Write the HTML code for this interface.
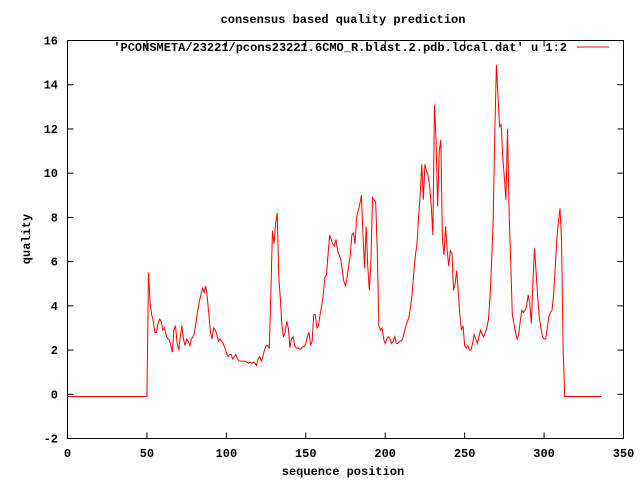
<!DOCTYPE html>
<html><head><meta charset="utf-8"><style>
body{margin:0;background:#fff}
svg text{font-family:"Liberation Mono",monospace;font-size:12px;font-weight:bold;fill:#000}
</style></head><body>
<svg id="chart" width="640" height="480" xmlns="http://www.w3.org/2000/svg">
<rect width="640" height="480" fill="#fff"/>
<text x="343" y="23" text-anchor="middle">consensus based quality prediction</text>
<text x="343" y="475" text-anchor="middle">sequence position</text>
<text transform="translate(30,239) rotate(-90)" text-anchor="middle">quality</text>
<g id="axes"></g>
<path id="series" fill="none" stroke="#ff0000" stroke-width="1"/>
<text x="567" y="51" text-anchor="end">'PCONSMETA/23221/pcons23221.6CMO_R.blast.2.pdb.local.dat' u 1:2</text>
<line x1="577" y1="47" x2="609" y2="47" stroke="#ff0000"/>
<rect x="67.5" y="40.5" width="556" height="398" fill="none" stroke="#000"/>
</svg>
<script>
const xTicks=[0,50,100,150,200,250,300,350];
const yTicks=[-2,0,2,4,6,8,10,12,14,16];
const startPos=0;
const quality=[
-0.1,-0.1,-0.1,-0.1,-0.1,-0.1,-0.1,-0.1,-0.1,-0.1,-0.1,-0.1,-0.1,-0.1,-0.1,-0.1,-0.1,-0.1,-0.1,-0.1,
-0.1,-0.1,-0.1,-0.1,-0.1,-0.1,-0.1,-0.1,-0.1,-0.1,-0.1,-0.1,-0.1,-0.1,-0.1,-0.1,-0.1,-0.1,-0.1,-0.1,
-0.1,-0.1,-0.1,-0.1,-0.1,-0.1,-0.1,-0.1,-0.1,-0.1,-0.1,
5.5,4.1,3.6,3.3,2.8,2.8,3.2,3.4,3.3,2.9,3.0,2.7,2.5,2.5,2.2,1.9,2.9,3.1,2.3,2.0,2.6,3.1,2.5,2.2,2.5,2.4,2.2,2.5,2.6,2.8,3.3,3.8,4.2,4.5,4.8,4.6,4.9,4.4,3.6,2.8,2.5,3.0,2.9,2.7,2.4,2.5,2.4,2.3,2.1,1.9,1.7,1.8,1.8,1.6,1.7,1.8,1.6,1.5,1.5,1.5,1.5,1.5,1.45,1.4,1.45,1.4,1.45,1.4,1.3,1.6,1.7,1.5,1.7,2.0,2.2,2.2,
2.1,4.5,7.4,6.8,7.7,8.2,5.3,
4.3,3.1,2.6,2.8,3.3,3.0,2.1,2.5,2.6,2.2,2.1,2.1,2.05,2.05,2.15,2.15,2.3,2.6,2.8,2.2,2.4,3.6,3.6,3.0,3.1,3.6,4.0,4.5,5.3,5.4,6.3,7.2,7.0,6.8,6.7,7.0,6.5,6.3,6.1,5.6,5.1,4.9,5.3,5.8,6.3,7.2,7.3,6.8,8.0,8.3,8.6,9.0,7.2,5.7,7.6,5.8,4.7,6.0,8.9,8.8,8.7,6.5,3.1,2.9,3.0,2.5,2.3,2.5,2.6,2.5,2.3,2.4,2.6,2.3,2.3,2.4,2.4,2.5,2.8,3.1,3.3,3.5,4.0,4.6,5.5,6.3,6.8,8.0,
9.0,10.4,8.8,10.4,10.1,9.9,9.4,8.5,7.2,13.1,11.5,8.5,11.0,11.5,7.0,6.3,7.6,6.5,5.8,6.5,6.4,4.7,5.0,5.6,4.6,3.6,2.9,3.1,2.2,2.1,2.2,2.0,2.0,2.3,2.7,2.5,2.3,2.6,2.9,2.7,2.6,2.8,3.0,3.4,4.4,6.0,8.0,11.9,14.9,13.5,12.1,12.2,10.7,9.8,8.8,12.0,8.2,6.0,3.6,3.2,2.8,2.5,2.7,3.3,3.8,3.7,3.8,4.0,4.5,4.1,3.2,5.1,6.6,5.5,4.4,3.5,3.0,2.6,2.5,2.5,3.0,3.5,3.7,3.8,4.5,5.7,7.0,7.8,8.4,7.0,2.0,
-0.1,-0.1,-0.1,-0.1,-0.1,-0.1,-0.1,-0.1,-0.1,-0.1,-0.1,-0.1,-0.1,-0.1,-0.1,-0.1,-0.1,-0.1,-0.1,-0.1,-0.1,-0.1,-0.1,-0.1
];
const X0=67.5,X1=623.5,Y0=438.5,Y1=40.5;
const xs=v=>X0+(v-0)/(350-0)*(X1-X0);
const ys=v=>Y0-(v+2)/(16+2)*(Y0-Y1);
const NS="http://www.w3.org/2000/svg";
const ax=document.getElementById('axes');
function mk(tag,attrs,txt){const e=document.createElementNS(NS,tag);for(const k in attrs)e.setAttribute(k,attrs[k]);if(txt!==undefined)e.textContent=txt;ax.appendChild(e);return e;}
xTicks.forEach(t=>{
  const x=xs(t);
  const a=mk('line',{x1:x,y1:Y0,x2:x,y2:Y0-6,stroke:'#000'});
  
  
  const b=mk('line',{x1:x,y1:Y1,x2:x,y2:Y1+6,stroke:'#000'});
  
  
  const l=mk('text',{x:x,y:457,'text-anchor':'middle'},String(t));
  
  
});
yTicks.forEach(t=>{
  const y=ys(t);
  const a=mk('line',{x1:X0,y1:y,x2:X0+6,y2:y,stroke:'#000'});
  
  
  const b=mk('line',{x1:X1,y1:y,x2:X1-6,y2:y,stroke:'#000'});
  
  
  const l=mk('text',{x:58,y:y+4,'text-anchor':'end'},String(t));
  
  
});
let d='';
quality.forEach((v,i)=>{d+=(i?'L':'M')+xs(startPos+i).toFixed(2)+','+ys(v).toFixed(2);});
document.getElementById('series').setAttribute('d',d);
</script>
</body></html>
